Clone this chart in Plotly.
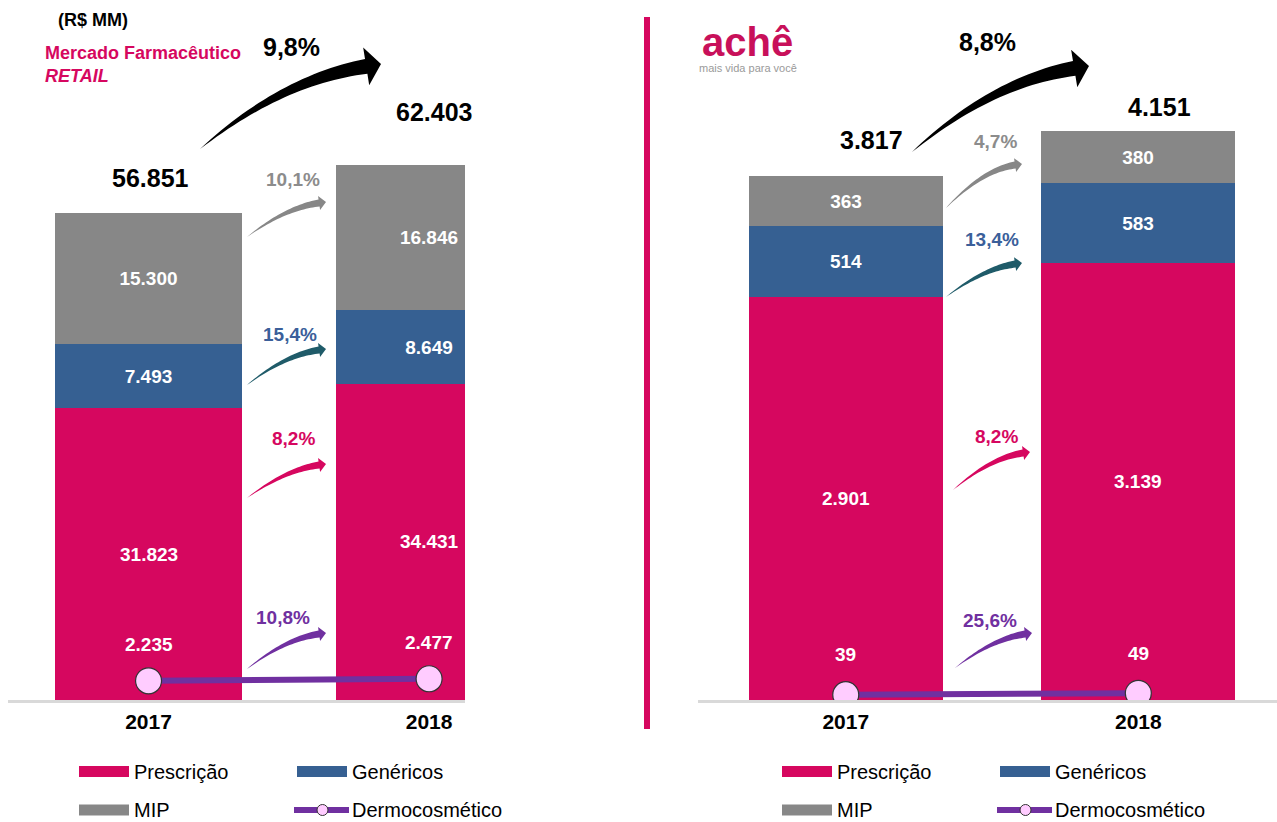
import math
import plotly.graph_objects as go

# ---------------- data ----------------
years = ["2017", "2018"]
series_names = ["Prescrição", "Genéricos", "MIP", "Dermocosmético"]

mkt_prescricao = [31823, 34431]
mkt_genericos = [7493, 8649]
mkt_mip = [15300, 16846]
mkt_dermo = [2235, 2477]

ache_prescricao = [2901, 3139]
ache_genericos = [514, 583]
ache_mip = [363, 380]
ache_dermo = [39, 49]

# ---------------- style ----------------
W, H = 1277, 822
FONT = "Liberation Sans, Arial, sans-serif"
PINK = "#D6075F"
BLUE = "#366092"
GRAY = "#878787"
PURPLE = "#7030A0"
TEAL = "#1F5B69"
MARKER_FILL = "#FFCCFF"
LBL_GRAY = "#8C8C8C"
LBL_BLUE = "#3B5F9A"


def fmt_int(v):
    return f"{v:,}".replace(",", ".")


def fmt_pct(new, old):
    return f"{(new / old - 1) * 100:.1f}%".replace(".", ",")


def px(x, y):
    return x / W, 1 - y / H


fig = go.Figure()

panels = [
    dict(xa="x", ya="y", presc=mkt_prescricao, gen=mkt_genericos, mip=mkt_mip, dermo=mkt_dermo, bw=0.665),
    dict(xa="x2", ya="y2", presc=ache_prescricao, gen=ache_genericos, mip=ache_mip, dermo=ache_dermo, bw=0.662),
]
xpos = [0, 1]

for p in panels:
    common = dict(x=xpos, xaxis=p["xa"], yaxis=p["ya"], width=p["bw"], showlegend=False,
                  marker_line_width=0)
    fig.add_trace(go.Bar(y=p["dermo"], name="Dermocosmético (base)", marker_color=PINK, **common))
    fig.add_trace(go.Bar(y=p["presc"], name=series_names[0], marker_color=PINK, **common))
    for vals, col, nm in [(p["gen"], BLUE, series_names[1]), (p["mip"], GRAY, series_names[2])]:
        fig.add_trace(go.Bar(y=vals, name=nm, marker_color=col,
                             texttemplate="%{y:,.0f}", textposition="inside",
                             insidetextanchor="middle", textangle=0, constraintext="none",
                             textfont=dict(color="white", size=19, family=FONT, weight="bold"),
                             **common))
    fig.add_trace(go.Scatter(x=xpos, y=p["dermo"], xaxis=p["xa"], yaxis=p["ya"], name=series_names[3],
                             mode="lines+markers", showlegend=False,
                             line=dict(color=PURPLE, width=6),
                             marker=dict(size=26, color=MARKER_FILL, line=dict(color="#333333", width=1.2))))

annotations = []
shapes = []

# labels inside pink region, dermo labels, totals
total_shift = [[(2, 35), (5, 53)], [(26, 36), (21, 24)]]
dermo_shift = [36, 40]
for i, p in enumerate(panels):
    for j in range(2):
        pink_top = p["dermo"][j] + p["presc"][j]
        annotations.append(dict(x=xpos[j], y=pink_top / 2, xref=p["xa"], yref=p["ya"],
                                text=fmt_int(p["presc"][j]), showarrow=False,
                                font=dict(color="white", size=19, family=FONT, weight="bold")))
        annotations.append(dict(x=xpos[j], y=p["dermo"][j], xref=p["xa"], yref=p["ya"],
                                yshift=dermo_shift[i],
                                text=fmt_int(p["dermo"][j]), showarrow=False,
                                font=dict(color="white", size=19, family=FONT, weight="bold")))
        tot = p["dermo"][j] + p["presc"][j] + p["gen"][j] + p["mip"][j]
        dx, dy = total_shift[i][j]
        annotations.append(dict(x=xpos[j], y=tot, xref=p["xa"], yref=p["ya"],
                                xshift=dx, yshift=dy,
                                text=fmt_int(tot), showarrow=False,
                                font=dict(color="black", size=25, family=FONT, weight="bold")))


# ---------------- growth arrows ----------------
def arrow_path(T, P, C, sw, hl, hw, n=30):
    dx, dy = P[0] - C[0], P[1] - C[1]
    L = math.hypot(dx, dy)
    ux, uy = dx / L, dy / L
    B = (P[0] - hl * ux, P[1] - hl * uy)
    left, right = [], []
    for k in range(n + 1):
        t = k / n
        qx = (1 - t) ** 2 * T[0] + 2 * (1 - t) * t * C[0] + t ** 2 * B[0]
        qy = (1 - t) ** 2 * T[1] + 2 * (1 - t) * t * C[1] + t ** 2 * B[1]
        ddx = 2 * (1 - t) * (C[0] - T[0]) + 2 * t * (B[0] - C[0])
        ddy = 2 * (1 - t) * (C[1] - T[1]) + 2 * t * (B[1] - C[1])
        dl = math.hypot(ddx, ddy)
        nx, ny = -ddy / dl, ddx / dl
        w = sw * t ** 0.85
        left.append((qx + nx * w, qy + ny * w))
        right.append((qx - nx * w, qy - ny * w))
    nbx, nby = -uy, ux
    pts = left + [(B[0] + nbx * hw, B[1] + nby * hw), P, (B[0] - nbx * hw, B[1] - nby * hw)] + right[::-1]
    s = ""
    for k, (x, y) in enumerate(pts):
        X, Y = px(x, y)
        s += ("M" if k == 0 else "L") + f"{X:.5f},{Y:.5f} "
    return s + "Z"


def add_arrow(T, P, color, big=False):
    if big:
        C = (T[0] + 0.45 * (P[0] - T[0]), P[1] + 16)
        path = arrow_path(T, P, C, sw=7.5, hl=15, hw=19)
    else:
        C = (T[0] + 0.48 * (P[0] - T[0]), P[1] + 6)
        path = arrow_path(T, P, C, sw=3.6, hl=7, hw=7)
    shapes.append(dict(type="path", path=path, xref="paper", yref="paper",
                       fillcolor=color, line=dict(width=0)))


def add_label(x, y, text, color, size):
    X, Y = px(x, y)
    annotations.append(dict(x=X, y=Y, xref="paper", yref="paper", text=text, showarrow=False,
                            xanchor="center", yanchor="middle",
                            font=dict(color=color, size=size, family=FONT, weight="bold")))


seg_colors = [GRAY, TEAL, PINK, PURPLE]
lbl_colors = [LBL_GRAY, LBL_BLUE, PINK, PURPLE]

# left panel
left_growth = [fmt_pct(mkt_mip[1], mkt_mip[0]), fmt_pct(mkt_genericos[1], mkt_genericos[0]),
               fmt_pct(mkt_prescricao[1], mkt_prescricao[0]), fmt_pct(mkt_dermo[1], mkt_dermo[0])]
left_arrows = [((247, 237), (326, 202)), ((247, 385), (326, 349)), ((247, 498), (326, 464)), ((247, 669), (326, 633))]
left_lbls = [(293, 179), (290, 334), (293, 439), (283, 617)]
for k in range(4):
    add_arrow(*left_arrows[k], seg_colors[k])
    add_label(*left_lbls[k], left_growth[k], lbl_colors[k], 19)

right_growth = [fmt_pct(ache_mip[1], ache_mip[0]), fmt_pct(ache_genericos[1], ache_genericos[0]),
                fmt_pct(ache_prescricao[1], ache_prescricao[0]), fmt_pct(ache_dermo[1], ache_dermo[0])]
right_arrows = [((946, 208), (1022, 164)), ((946, 297), (1022, 263)), ((953, 490), (1030, 452)), ((955, 668), (1032, 633))]
right_lbls = [(995, 141), (992, 240), (996, 436), (990, 620)]
for k in range(4):
    add_arrow(*right_arrows[k], seg_colors[k])
    add_label(*right_lbls[k], right_growth[k], lbl_colors[k], 19)

mkt_tot = [mkt_dermo[j] + mkt_prescricao[j] + mkt_genericos[j] + mkt_mip[j] for j in range(2)]
ache_tot = [ache_dermo[j] + ache_prescricao[j] + ache_genericos[j] + ache_mip[j] for j in range(2)]
add_arrow((200, 149), (381, 64), "black", big=True)
add_label(291, 47, fmt_pct(mkt_tot[1], mkt_tot[0]), "black", 25)
add_arrow((912, 152), (1089, 66), "black", big=True)
add_label(987, 42, fmt_pct(ache_tot[1], ache_tot[0]), "black", 25)

# ---------------- headers ----------------
add_label(93, 20, "(R$ MM)", "black", 18)
X, Y = px(43, 53)
annotations.append(dict(x=X, y=Y, xref="paper", yref="paper", text="Mercado Farmacêutico", showarrow=False,
                        xanchor="left", yanchor="middle",
                        font=dict(color=PINK, size=18, family=FONT, weight="bold")))
X, Y = px(43, 76)
annotations.append(dict(x=X, y=Y, xref="paper", yref="paper", text="<i>RETAIL</i>", showarrow=False,
                        xanchor="left", yanchor="middle",
                        font=dict(color=PINK, size=18, family=FONT, weight="bold")))
# logo
X, Y = px(747, 42)
annotations.append(dict(x=X, y=Y, xref="paper", yref="paper", text="achê", showarrow=False,
                        xanchor="center", yanchor="middle",
                        font=dict(color="#C8105A", size=40, family=FONT, weight="bold")))
X, Y = px(748, 68)
annotations.append(dict(x=X, y=Y, xref="paper", yref="paper", text="mais vida para você", showarrow=False,
                        xanchor="center", yanchor="middle",
                        font=dict(color="#9A9A9A", size=11, family=FONT)))

# separator
x0, y0 = px(647, 17)
x1, y1 = px(647, 729)
shapes.append(dict(type="line", xref="paper", yref="paper", x0=x0, x1=x1, y0=y0, y1=y1,
                   line=dict(color=PINK, width=6)))

# ---------------- legends ----------------
rows = [771.5, 810]
legend_items = [(series_names[0], PINK, 0, 0), (series_names[1], BLUE, 1, 0),
                (series_names[2], GRAY, 0, 1), (series_names[3], PURPLE, 1, 1)]
for cx in [(79, 297), (782, 1000)]:
    for name, col, c, r in legend_items:
        sx = cx[c]
        sy = rows[r]
        if name == series_names[3]:
            a = px(sx - 3, sy)
            b = px(sx + 52, sy)
            shapes.append(dict(type="line", xref="paper", yref="paper", x0=a[0], y0=a[1], x1=b[0], y1=b[1],
                               line=dict(color=col, width=6)))
            m0 = px(sx + 20, sy - 5.5)
            m1 = px(sx + 31, sy + 5.5)
            shapes.append(dict(type="circle", xref="paper", yref="paper", x0=m0[0], y0=m0[1],
                               x1=m1[0], y1=m1[1], fillcolor=MARKER_FILL,
                               line=dict(color="#333333", width=1)))
        else:
            a = px(sx, sy - 5.5)
            b = px(sx + 50, sy + 5.5)
            shapes.append(dict(type="rect", xref="paper", yref="paper", x0=a[0], y0=a[1], x1=b[0], y1=b[1],
                               fillcolor=col, line=dict(width=0)))
        tx, ty = px(sx + 53, sy)
        annotations.append(dict(x=tx, y=ty, xref="paper", yref="paper", text=name, showarrow=False,
                                xanchor="left", yanchor="middle",
                                font=dict(color="black", size=20, family=FONT)))

# ---------------- axes ----------------
base_px = 700
ydom = [(H - base_px) / H, 1]
axis_common = dict(tickvals=xpos, ticktext=years, showgrid=False, zeroline=False, ticks="",
                   showline=True, linecolor="#D9D9D9", linewidth=3,
                   tickfont=dict(color="black", size=21, family=FONT, weight="bold"),
                   ticklabelstandoff=1, fixedrange=True)
fig.update_layout(
    width=W, height=H,
    margin=dict(l=0, r=0, t=0, b=0),
    paper_bgcolor="white", plot_bgcolor="white",
    barmode="stack", bargap=0,
    separators=",.",
    showlegend=False,
    font=dict(family=FONT),
    xaxis=dict(domain=[8 / W, 465 / W], range=[-0.501, 1.128], anchor="y", **axis_common),
    yaxis=dict(domain=ydom, range=[0, base_px / 0.00857], visible=False, fixedrange=True),
    xaxis2=dict(domain=[698 / W, 1], range=[-0.505, 1.474], anchor="y2", **axis_common),
    yaxis2=dict(domain=ydom, range=[0, base_px / 0.13717], visible=False, fixedrange=True, anchor="x2"),
    annotations=annotations,
    shapes=shapes,
)

fig.write_html("out.html", config={"displayModeBar": False},
               post_script="document.body.style.margin='0';document.body.style.overflow='hidden';")
